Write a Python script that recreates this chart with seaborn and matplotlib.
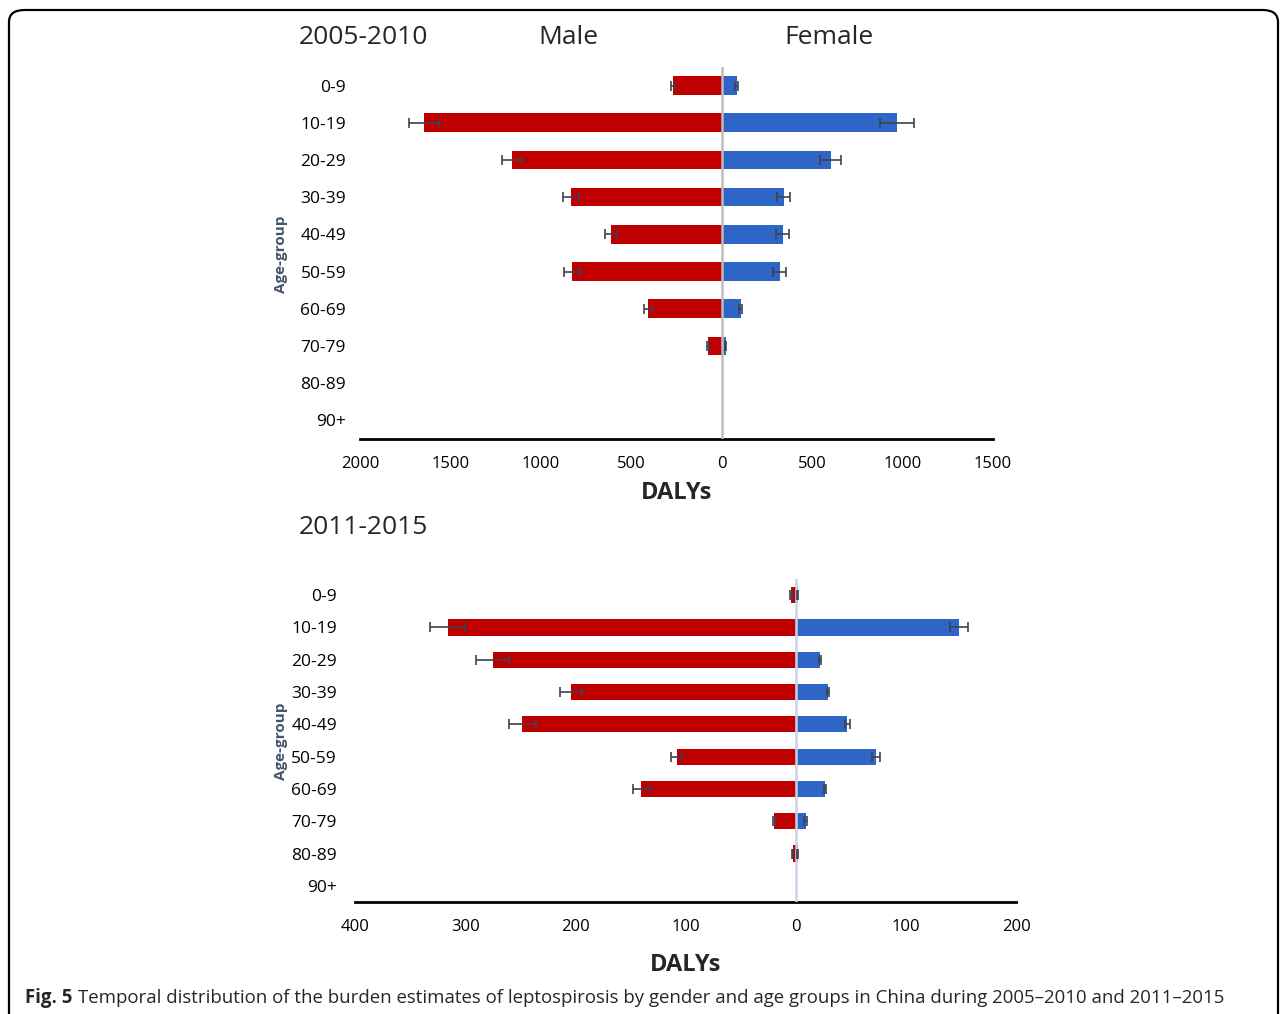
import numpy as np
import pandas as pd
import matplotlib
matplotlib.use("Agg")
import matplotlib.pyplot as plt
from matplotlib.patches import FancyBboxPatch
from matplotlib.ticker import FixedLocator, FuncFormatter
import seaborn as sns

sns.set_theme(style="white")
plt.rcParams['font.family'] = ['Open Sans', 'DejaVu Sans']

age_groups = ["0-9", "10-19", "20-29", "30-39", "40-49", "50-59", "60-69", "70-79", "80-89", "90+"]

# 2005-2010
male_0510 = [271, 1646, 1160, 834, 613, 829, 409, 77, 0, 0]
male_0510_err = [12, 85, 55, 45, 33, 45, 22, 5, 0, 0]
female_0510 = [83, 967, 602, 343, 337, 320, 105, 22, 1, 0]
female_0510_err = [8, 94, 58, 36, 36, 36, 8, 4, 0, 0]

# 2011-2015
male_1115 = [4.5, 316, 275, 204, 248, 108, 140, 20, 2.5, 0]
male_1115_err = [1, 16, 15, 10, 12, 5, 8, 1, 0.5, 0]
female_1115 = [2, 148, 22, 29, 47, 73, 26.5, 9, 2, 0.3]
female_1115_err = [0.5, 8, 1, 1, 2, 3.5, 1, 1, 0.5, 0]

xticks_0510 = [-2000, -1500, -1000, -500, 0, 500, 1000, 1500]
xticks_1115 = [-400, -300, -200, -100, 0, 100, 200]

MALE_C = "#C00000"
FEMALE_C = "#2E66C8"
ERR_C = "#3C4250"

W, H = 1287, 1014
fig = plt.figure(figsize=(W / 100, H / 100), dpi=100)


def px_axes(left, top, right, bottom):
    return fig.add_axes([left / W, 1 - bottom / H, (right - left) / W, (bottom - top) / H])


def draw_panel(ax, male, male_err, female, female_err, xticks, xlim, zero_c, ypad, xlabelpad):
    df = pd.DataFrame({
        "age": age_groups * 2,
        "value": [-m for m in male] + list(female),
        "sex": ["Male"] * len(age_groups) + ["Female"] * len(age_groups),
    })
    sns.barplot(data=df, x="value", y="age", hue="sex", orient="h",
                palette={"Male": MALE_C, "Female": FEMALE_C}, dodge=False,
                width=0.5, errorbar=None, legend=False, ax=ax, zorder=2,
                edgecolor="none", saturation=1)
    ypos = np.arange(len(age_groups))
    for vals, errs, sign in ((male, male_err, -1), (female, female_err, 1)):
        idx = [i for i, e in enumerate(errs) if e > 0]
        ax.errorbar([sign * vals[i] for i in idx], [ypos[i] for i in idx],
                    xerr=[errs[i] for i in idx], fmt="none",
                    ecolor=ERR_C, elinewidth=1.2, capsize=3.5, capthick=1.2, zorder=4)
    ax.axvline(0, color=zero_c, lw=1.8, zorder=3)
    ax.set_xlim(*xlim)
    ax.set_ylim(len(age_groups) - 0.5, -0.5)
    ax.xaxis.set_major_locator(FixedLocator(xticks))
    ax.xaxis.set_major_formatter(FuncFormatter(lambda v, p: f"{abs(int(v))}"))
    for s in ["top", "right", "left"]:
        ax.spines[s].set_visible(False)
    ax.spines["bottom"].set_color("black")
    ax.spines["bottom"].set_linewidth(2)
    ax.tick_params(axis="x", length=0, pad=12, labelsize=12, colors="black")
    ax.tick_params(axis="y", length=0, pad=ypad, labelsize=12.5, colors="black")
    ax.set_xlabel("DALYs", fontsize=17, fontweight="bold", labelpad=xlabelpad)
    ax.set_ylabel("")


ax1 = px_axes(360, 67, 993, 439)
draw_panel(ax1, male_0510, male_0510_err, female_0510, female_0510_err,
           xticks_0510, (-2000, 1500), "#BDBDBD", 10, 7)

ax2 = px_axes(355, 579, 1016, 902)
draw_panel(ax2, male_1115, male_1115_err, female_1115, female_1115_err,
           xticks_1115, (-400, 200), "#C9D3E6", 13, 13)

# Titles
fig.text(299 / W, 1 - 38 / H, "2005-2010", fontsize=19, ha="left", va="center")
fig.text(568 / W, 1 - 38 / H, "Male", fontsize=19, ha="center", va="center")
fig.text(829 / W, 1 - 38 / H, "Female", fontsize=19, ha="center", va="center")
fig.text(299 / W, 1 - 527 / H, "2011-2015", fontsize=19, ha="left", va="center")

# Age-group labels
for yc in (254, 741):
    fig.text(281 / W, 1 - yc / H, "Age-group", rotation=90, fontsize=11,
             fontweight="bold", color="#44546A", ha="center", va="center")

# Border
border = FancyBboxPatch((9 / W, -0.05), (1278 - 9) / W, (1 - 10 / H) + 0.05,
                        boxstyle="round,pad=0,rounding_size=0.012",
                        transform=fig.transFigure, fill=False,
                        edgecolor="black", lw=1.6)
fig.patches.append(border)

# Caption
t1 = fig.text(25 / W, 1 - 998 / H, "Fig. 5", fontsize=13.4, fontweight="bold",
              ha="left", va="center")
fig.canvas.draw()
bb = t1.get_window_extent(renderer=fig.canvas.get_renderer())
fig.text((bb.x1 + 6) / W, 1 - 998 / H,
         "Temporal distribution of the burden estimates of leptospirosis by gender and age groups in China during 2005\u20132010 and 2011\u20132015",
         fontsize=13.4, ha="left", va="center")

fig.savefig("out.png", dpi=100)
